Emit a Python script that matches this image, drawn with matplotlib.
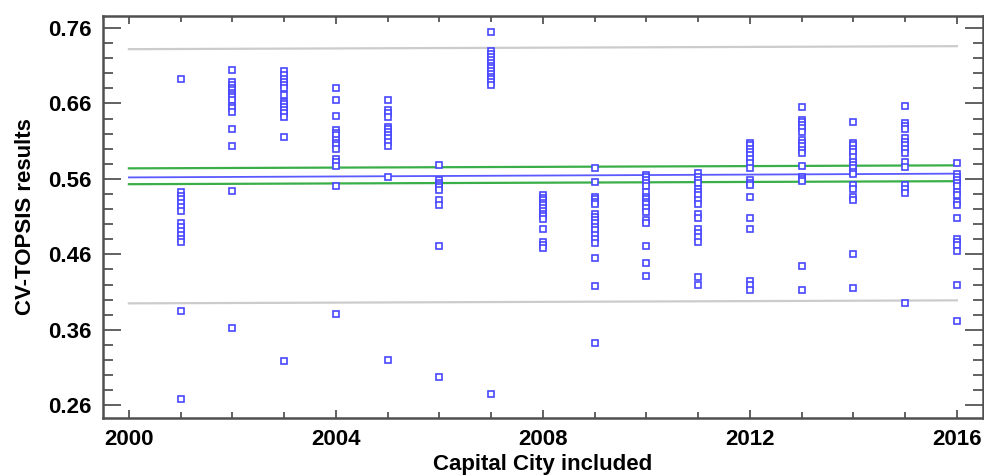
import matplotlib
matplotlib.use("Agg")
from matplotlib import pyplot as plt
from matplotlib.ticker import MultipleLocator

# CV-TOPSIS results per year (capital city included)
years = list(range(2001, 2017))
results = {
    2001: [0.693, 0.542, 0.537, 0.533, 0.528, 0.523, 0.517, 0.501, 0.496, 0.491,
           0.485, 0.481, 0.476, 0.385, 0.268],
    2002: [0.705, 0.688, 0.684, 0.681, 0.678, 0.674, 0.671, 0.668, 0.665, 0.657,
           0.654, 0.649, 0.626, 0.603, 0.544, 0.362],
    2003: [0.703, 0.698, 0.693, 0.689, 0.684, 0.680, 0.671, 0.662, 0.659, 0.656,
           0.652, 0.647, 0.642, 0.616, 0.319],
    2004: [0.681, 0.664, 0.643, 0.625, 0.621, 0.618, 0.611, 0.608, 0.605, 0.600,
           0.587, 0.583, 0.577, 0.550, 0.381],
    2005: [0.665, 0.651, 0.648, 0.642, 0.629, 0.626, 0.622, 0.618, 0.614, 0.609,
           0.603, 0.563, 0.320],
    2006: [0.579, 0.558, 0.555, 0.552, 0.549, 0.545, 0.532, 0.526, 0.471, 0.298],
    2007: [0.755, 0.729, 0.725, 0.721, 0.718, 0.714, 0.710, 0.707, 0.703, 0.699,
           0.695, 0.692, 0.688, 0.684, 0.275],
    2008: [0.539, 0.535, 0.532, 0.528, 0.525, 0.522, 0.518, 0.514, 0.511, 0.507,
           0.493, 0.476, 0.472, 0.469],
    2009: [0.575, 0.556, 0.536, 0.533, 0.530, 0.527, 0.514, 0.510, 0.505, 0.502,
           0.496, 0.492, 0.485, 0.481, 0.475, 0.455, 0.418, 0.343],
    2010: [0.565, 0.562, 0.558, 0.555, 0.550, 0.543, 0.536, 0.533, 0.530, 0.527,
           0.521, 0.516, 0.505, 0.502, 0.471, 0.448, 0.431],
    2011: [0.568, 0.563, 0.558, 0.554, 0.547, 0.543, 0.539, 0.532, 0.527, 0.514,
           0.508, 0.494, 0.488, 0.483, 0.477, 0.430, 0.420],
    2012: [0.608, 0.605, 0.600, 0.596, 0.592, 0.587, 0.581, 0.574, 0.558, 0.555,
           0.552, 0.536, 0.508, 0.494, 0.424, 0.419, 0.413],
    2013: [0.655, 0.638, 0.635, 0.631, 0.628, 0.622, 0.611, 0.607, 0.603, 0.598,
           0.594, 0.577, 0.563, 0.560, 0.557, 0.444, 0.413],
    2014: [0.635, 0.608, 0.605, 0.600, 0.596, 0.589, 0.583, 0.578, 0.574, 0.569,
           0.567, 0.552, 0.547, 0.536, 0.532, 0.460, 0.416],
    2015: [0.657, 0.634, 0.630, 0.626, 0.614, 0.609, 0.605, 0.600, 0.594, 0.583,
           0.576, 0.552, 0.546, 0.541, 0.396],
    2016: [0.581, 0.567, 0.563, 0.558, 0.554, 0.550, 0.543, 0.539, 0.530, 0.525,
           0.508, 0.481, 0.477, 0.472, 0.464, 0.419, 0.372],
}

# fitted line with confidence and prediction limits
fit_x = [2000, 2016]
fit_y = [0.562, 0.567]
conf_hi = [0.574, 0.578]
conf_lo = [0.553, 0.557]
pred_hi = [0.732, 0.736]
pred_lo = [0.395, 0.399]

plt.rcParams["font.family"] = ["Liberation Sans", "DejaVu Sans"]

fig = plt.figure(figsize=(9.84, 4.76), dpi=100)
ax = fig.add_axes([0.1047, 0.1218, 0.894, 0.8446])

ax.plot(fit_x, pred_hi, color="#cccccc", lw=1.6)
ax.plot(fit_x, pred_lo, color="#cccccc", lw=1.6)
ax.plot(fit_x, conf_hi, color="#3aae48", lw=1.6)
ax.plot(fit_x, conf_lo, color="#3aae48", lw=1.6)
ax.plot(fit_x, fit_y, color="#5a5aff", lw=1.3)

for yr in years:
    vals = results[yr]
    ax.plot([yr] * len(vals), vals, ls="none", marker="s", ms=4.3,
            mfc="white", mec="#4848ff", mew=1.2)

ax.set_xlim(1999.5, 2016.5)
ax.set_ylim(0.243, 0.776)
ax.xaxis.set_major_locator(MultipleLocator(4))
ax.xaxis.set_minor_locator(MultipleLocator(1))
ax.yaxis.set_minor_locator(MultipleLocator(0.02))
ax.set_yticks([0.26, 0.36, 0.46, 0.56, 0.66, 0.76])
ax.set_yticklabels(["0.26", "0.36", "0.46", "0.56", "0.66", "0.76"])

ax.tick_params(axis="both", which="both", direction="in", top=True, right=True,
               color="#555555", width=1.3)
ax.tick_params(axis="y", which="major", length=13, pad=8, labelsize=16)
ax.tick_params(axis="y", which="minor", length=7.5)
ax.tick_params(axis="x", which="major", length=6, pad=8, labelsize=16)
ax.tick_params(axis="x", which="minor", length=4)
for lbl in ax.get_xticklabels() + ax.get_yticklabels():
    lbl.set_fontweight("bold")

for sp in ax.spines.values():
    sp.set_color("#505050")
    sp.set_linewidth(1.8)

ax.set_xlabel("Capital City included", fontsize=16, fontweight="bold", labelpad=3)
ax.set_ylabel("CV-TOPSIS results", fontsize=16, fontweight="bold", labelpad=9)

fig.savefig("out.png", dpi=100)
